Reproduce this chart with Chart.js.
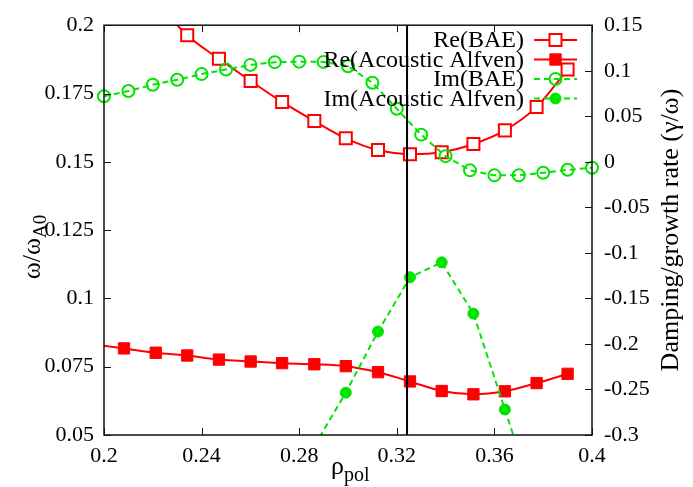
<!DOCTYPE html>
<html><head><meta charset="utf-8">
<script src="https://cdn.jsdelivr.net/npm/chart.js@4/dist/chart.umd.min.js"></script>
<style>html,body{margin:0;padding:0;background:#fff}#wrap{width:693px;height:487px;position:relative}</style>
</head><body>
<div id="wrap"><canvas id="c" width="693" height="487"></canvas></div>
<script>
// ---- data ----
const rhoRe = [0.1952, 0.2082, 0.2212, 0.2341, 0.2471, 0.2601, 0.2730, 0.2862, 0.2991, 0.3123, 0.3254, 0.3384, 0.3514, 0.3643, 0.3773, 0.3900];
const reBAE = [null, null, 0.2090, 0.1963, 0.1877, 0.1796, 0.1719, 0.1649, 0.1586, 0.1543, 0.1528, 0.1535, 0.1565, 0.1615, 0.1701, 0.1838];
const reAcoustic = [0.0833, 0.0817, 0.0801, 0.0791, 0.0776, 0.0769, 0.0763, 0.0759, 0.0752, 0.0730, 0.0696, 0.0661, 0.0649, 0.0660, 0.0690, 0.0724];
const imAcoustic = [null, null, null, null, null, null, null, -0.312, -0.2535, -0.1864, -0.1268, -0.1104, -0.1667, -0.2720, -0.378, null];
const rhoIm = [0.20, 0.21, 0.22, 0.23, 0.24, 0.25, 0.26, 0.27, 0.28, 0.29, 0.30, 0.31, 0.32, 0.33, 0.34, 0.35, 0.36, 0.37, 0.38, 0.39, 0.40];
const imBAE = [0.0719, 0.0778, 0.0846, 0.0901, 0.0963, 0.1013, 0.1064, 0.1094, 0.1100, 0.1097, 0.1050, 0.0868, 0.0582, 0.0298, 0.0062, -0.0094, -0.0149, -0.0149, -0.0120, -0.0088, -0.0066];
const markerRho = 0.3242;
const xTicks = [0.2, 0.24, 0.28, 0.32, 0.36, 0.4];
const xTickLabels = ['0.2', '0.24', '0.28', '0.32', '0.36', '0.4'];
const yTicks = [0.05, 0.075, 0.1, 0.125, 0.15, 0.175, 0.2];
const yTickLabels = ['0.05', '0.075', '0.1', '0.125', '0.15', '0.175', '0.2'];
const y2Ticks = [-0.3, -0.25, -0.2, -0.15, -0.1, -0.05, 0, 0.05, 0.1, 0.15];
const y2TickLabels = ['-0.3', '-0.25', '-0.2', '-0.15', '-0.1', '-0.05', '0', '0.05', '0.1', '0.15'];
const seriesNames = ['Re(BAE)', 'Re(Acoustic Alfven)', 'Im(BAE)', 'Im(Acoustic Alfven)'];

// ---- styling ----
const RED = '#ff0000', GREEN = '#00e400';
const FONT = "'Liberation Serif'";
const pts = (xs, ys) => xs.map((x, i) => ({x: x, y: ys[i]})).filter(p => p.y !== null);

const datasets = [
  {label: seriesNames[0], data: pts(rhoRe, reBAE), yAxisID: 'y', borderColor: RED, borderWidth: 2,
   cubicInterpolationMode: 'monotone', pointStyle: 'rect', pointRadius: 8.5, pointBorderWidth: 2,
   pointBorderColor: RED, pointBackgroundColor: '#fff', order: 5},
  {label: seriesNames[1], data: pts(rhoRe, reAcoustic), yAxisID: 'y', borderColor: RED, borderWidth: 2,
   cubicInterpolationMode: 'monotone', pointStyle: 'rect', pointRadius: 8, pointBorderWidth: 1,
   pointBorderColor: RED, pointBackgroundColor: RED, order: 4},
  {label: seriesNames[2], data: pts(rhoIm, imBAE), yAxisID: 'y2', borderColor: GREEN, borderWidth: 2,
   borderDash: [6, 4], tension: 0, pointStyle: 'circle', pointRadius: 6, pointBorderWidth: 2,
   pointBorderColor: GREEN, pointBackgroundColor: 'rgba(255,255,255,0)', clip: false, order: 3},
  {label: seriesNames[3], data: pts(rhoRe, imAcoustic), yAxisID: 'y2', borderColor: GREEN, borderWidth: 2,
   borderDash: [6, 4], tension: 0, pointStyle: 'circle', pointRadius: 5.5, pointBorderWidth: 1,
   pointBorderColor: GREEN, pointBackgroundColor: GREEN, order: 2},
  {label: 'marker', data: [{x: markerRho, y: yTicks[0]}, {x: markerRho, y: yTicks[yTicks.length - 1]}],
   yAxisID: 'y', borderColor: '#000', borderWidth: 2, pointRadius: 0, order: 1}
];

function drawLegendMarker(ctx, ds, x, y) {
  ctx.save();
  ctx.lineWidth = ds.pointBorderWidth;
  ctx.strokeStyle = ds.pointBorderColor;
  ctx.fillStyle = ds.pointBackgroundColor;
  ctx.beginPath();
  if (ds.pointStyle === 'rect') {
    const h = ds.pointRadius * Math.SQRT1_2;
    ctx.rect(x - h, y - h, 2 * h, 2 * h);
  } else {
    ctx.arc(x, y, ds.pointRadius, 0, Math.PI * 2);
  }
  ctx.fill(); ctx.stroke();
  ctx.restore();
}

const framePlugin = {
  id: 'frame',
  afterDatasetsDraw(chart) {
    const ctx = chart.ctx, a = chart.chartArea;
    const sx = chart.scales.x, sy = chart.scales.y, sy2 = chart.scales.y2;
    ctx.save();
    ctx.strokeStyle = '#111';
    ctx.lineWidth = 1.5;
    ctx.strokeRect(a.left, a.top, a.right - a.left, a.bottom - a.top);
    ctx.lineWidth = 1;
    ctx.beginPath();
    const T = 7;
    xTicks.forEach(v => { const p = Math.round(sx.getPixelForValue(v)) + 0.5;
      ctx.moveTo(p, a.bottom); ctx.lineTo(p, a.bottom - T);
      ctx.moveTo(p, a.top); ctx.lineTo(p, a.top + T); });
    yTicks.forEach(v => { const p = Math.round(sy.getPixelForValue(v)) + 0.5;
      ctx.moveTo(a.left, p); ctx.lineTo(a.left + T, p); });
    y2Ticks.forEach(v => { const p = Math.round(sy2.getPixelForValue(v)) + 0.5;
      ctx.moveTo(a.right, p); ctx.lineTo(a.right - T, p); });
    ctx.stroke();

    // legend (gnuplot style, top right, text right-aligned)
    const rows = [40, 59.5, 79, 98.5];
    const textRight = 524, s0 = 534, s1 = 577, mx = 555.5;
    ctx.font = '24px ' + FONT;
    ctx.textAlign = 'right';
    ctx.textBaseline = 'middle';
    for (let i = 0; i < 4; i++) {
      const ds = datasets[i], y = rows[i];
      ctx.fillStyle = '#000';
      ctx.fillText(seriesNames[i], textRight, y + 1);
      ctx.save();
      ctx.strokeStyle = ds.borderColor; ctx.lineWidth = ds.borderWidth;
      ctx.setLineDash(ds.borderDash || []);
      ctx.beginPath(); ctx.moveTo(s0, y); ctx.lineTo(s1, y); ctx.stroke();
      ctx.restore();
      drawLegendMarker(ctx, ds, mx, y);
    }
    ctx.restore();
  },
  afterDraw(chart) {
    const ctx = chart.ctx;
    ctx.save();
    ctx.fillStyle = '#000';
    ctx.textBaseline = 'alphabetic';
    // left title: ω/ω_A0
    ctx.save();
    ctx.translate(40, 247);
    ctx.rotate(-Math.PI / 2);
    ctx.font = '26px ' + FONT;
    const m1 = ctx.measureText('ω/ω').width;
    ctx.font = '19px ' + FONT;
    const m2 = ctx.measureText('A0').width;
    const start = -(m1 + m2) / 2;
    ctx.textAlign = 'left';
    ctx.font = '26px ' + FONT;
    ctx.fillText('ω/ω', start, 0);
    ctx.font = '19px ' + FONT;
    ctx.fillText('A0', start + m1, 6);
    ctx.restore();
    // right title
    ctx.save();
    ctx.translate(678, 230);
    ctx.rotate(-Math.PI / 2);
    ctx.font = '26px ' + FONT;
    ctx.textAlign = 'center';
    ctx.fillText('Damping/growth rate (γ/ω)', 0, 0);
    ctx.restore();
    // bottom title: ρ_pol
    ctx.textAlign = 'left';
    ctx.font = '26px ' + FONT;
    ctx.fillText('ρ', 331, 474);
    const rw = ctx.measureText('ρ').width;
    ctx.font = '20px ' + FONT;
    ctx.fillText('pol', 331 + rw, 481);
    ctx.restore();
  }
};

const tickFont = {family: FONT, size: 22};
new Chart(document.getElementById('c'), {
  type: 'line',
  data: {datasets: datasets},
  options: {
    responsive: false,
    animation: false,
    devicePixelRatio: 1,
    layout: {padding: {top: 22, left: 0, right: 0, bottom: 0}},
    plugins: {legend: {display: false}, tooltip: {enabled: false}},
    elements: {line: {capBezierPoints: false}},
    scales: {
      x: {type: 'linear', position: 'bottom', min: 0.2, max: 0.4,
          grid: {display: false, drawTicks: false}, border: {display: false},
          afterBuildTicks: s => { s.ticks = xTicks.map(v => ({value: v})); },
          afterFit: s => { s.height = 52; },
          ticks: {font: tickFont, color: '#000', padding: 8, maxRotation: 0, autoSkip: false,
                  callback: (v, i) => xTickLabels[i]}},
      y: {type: 'linear', position: 'left', min: 0.05, max: 0.2,
          grid: {display: false, drawTicks: false}, border: {display: false},
          afterBuildTicks: s => { s.ticks = yTicks.map(v => ({value: v})); },
          afterFit: s => { s.width = 104; },
          ticks: {font: tickFont, color: '#000', padding: 10, autoSkip: false,
                  callback: (v, i) => yTickLabels[i]}},
      y2: {type: 'linear', position: 'right', min: -0.3, max: 0.15,
          grid: {display: false, drawTicks: false}, border: {display: false},
          afterBuildTicks: s => { s.ticks = y2Ticks.map(v => ({value: v})); },
          afterFit: s => { s.width = 101; },
          ticks: {font: tickFont, color: '#000', padding: 12, autoSkip: false,
                  callback: (v, i) => y2TickLabels[i]}}
    }
  },
  plugins: [framePlugin]
});
</script>
</body></html>
